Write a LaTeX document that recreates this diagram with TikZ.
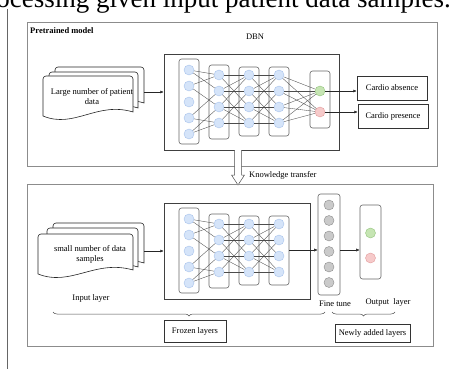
\documentclass[tikz,border=0pt]{standalone}
\usepackage{fontspec}
\setmainfont{Liberation Serif}
\usetikzlibrary{arrows.meta,decorations.pathreplacing}

\definecolor{unitfill}{HTML}{D5E4F9}
\definecolor{unitline}{HTML}{A8C3EC}
\definecolor{yesfill}{HTML}{C6E5B3}
\definecolor{yesline}{HTML}{93C47D}
\definecolor{nofill}{HTML}{F6CACA}
\definecolor{noline}{HTML}{E39B9B}
\definecolor{tunefill}{HTML}{CACACA}
\definecolor{tuneline}{HTML}{8C8C8C}

\tikzset{
  panel/.style={draw=black!45, line width=0.9pt},
  netbox/.style={draw=black!75, line width=0.5pt, inner sep=0pt},
  column/.style={draw=black!60, fill=white, rounded corners=2.5pt, line width=0.6pt, inner sep=0pt, minimum width=20pt},
  unit/.style={circle, draw=unitline, fill=unitfill, minimum size=10pt, inner sep=0pt},
  yesunit/.style={unit, draw=yesline, fill=yesfill},
  nounit/.style={unit, draw=noline, fill=nofill},
  tuneunit/.style={unit, draw=tuneline, fill=tunefill},
  link/.style={draw=black!70, line width=0.35pt},
  flow/.style={draw=black!85, line width=0.5pt, -{Latex[length=3.5pt,width=3pt]}},
  lbl/.style={font=\fontsize{8.5}{10}\selectfont, inner sep=1pt},
  labelbox/.style={lbl, draw=black!80, line width=0.5pt, inner sep=0pt},
  docpage/.style={draw=black!85, fill=white, line width=0.6pt},
  layerbrace/.style={draw=black!70, line width=0.5pt, decorate, decoration={brace, mirror, amplitude=4pt}},
}

% one page of the stacked data sheets: left, top, width, height
\newcommand{\patientdoc}[4]{%
  \draw[docpage] (#1+#3,#2+#4-4) .. controls (#1+0.6*#3,#2+#4-15) and (#1+0.35*#3,#2+#4+13) .. (#1,#2+#4)
    [rounded corners=3pt] -- (#1,#2) -- (#1+#3,#2) [sharp corners] -- cycle;
}

% the four hidden layers of the DBN: name prefix, vertical offset
\newcommand{\dbnstack}[2]{%
  \node[column, minimum height=85pt] (#1c1) at (189,101.5+#2) {};
  \node[column, minimum height=74pt] (#1c2) at (219,102+#2) {};
  \node[column, minimum height=69pt] (#1c3) at (249,101.5+#2) {};
  \node[column, minimum height=69pt] (#1c4) at (279,101.5+#2) {};
  \foreach \i/\y in {1/70,2/86,3/102,4/118,5/134}
    \node[unit] (#1a\i) at (189,\y+#2) {};
  \foreach \i/\y in {1/75,2/91,3/107,4/123} {
    \node[unit] (#1b\i) at (219,\y+#2) {};
    \node[unit] (#1d\i) at (249,\y+#2) {};
    \node[unit] (#1e\i) at (279,\y+#2) {};
  }
  \foreach \i/\j in {1/1,1/2,2/1,2/3,4/2,4/4,5/3,5/4}
    \draw[link] (#1a\i) -- (#1b\j);
  \foreach \i/\j in {1/1,1/3,2/1,2/2,2/4,3/1,3/3,3/4,4/2,4/4} {
    \draw[link] (#1b\i) -- (#1d\j);
    \draw[link] (#1d\i) -- (#1e\j);
  }
}

\begin{document}
\begin{tikzpicture}[x=1pt,y=-1pt]
\useasboundingbox (0,0) rectangle (453,369);

% line of running text above the figure, cut by the page
\node[anchor=base east, inner sep=0pt, font=\fontsize{27}{30}\selectfont] (caption) at (451,7.5) {processing given input patient data samples.};
\draw[black!60, line width=0.8pt] (7,9) -- (7,369);

% pretrained model
\draw[panel] (27,22) rectangle (437,166);
\node[lbl, anchor=west, font=\fontsize{8.5}{10}\selectfont\bfseries] (pretrained) at (29,31) {Pretrained model};
\node[lbl] (dbnlabel) at (255,37) {DBN};

\patientdoc{55}{67}{89}{40}
\patientdoc{49}{72}{89}{40}
\patientdoc{43}{76}{90}{40}
\node[lbl, align=center] (bigtext) at (92,97) {Large number of patient\\data};
\coordinate (bigdoc) at (144,92);

\node[netbox, minimum width=175pt, minimum height=96pt] (dbntop) at (251.5,102) {};
\draw[flow] (bigdoc) -- (dbntop.west |- bigdoc);

\dbnstack{t}{0}
\node[column, minimum height=57pt] (tc5) at (320,99.5) {};
\node[yesunit] (yes) at (320,91) {};
\node[nounit] (no) at (320,112) {};
\foreach \i in {1,...,4} {
  \draw[link] (te\i) -- (yes);
  \draw[link] (te\i) -- (no);
}

\node[labelbox, minimum width=70pt, minimum height=24pt] (absence) at (392,88) {Cardio absence};
\node[labelbox, minimum width=70pt, minimum height=24pt] (presence) at (393,116) {Cardio presence};
\draw[flow] (yes) -- (absence.west |- yes);
\draw[flow] (no) -- (presence.west |- no);

% knowledge transfer
\draw[black!70, line width=0.5pt, fill=white] (234.5,150) -- (234.5,175) -- (231.5,175) -- (238,185)
  -- (244.5,175) -- (241.5,175) -- (241.5,150);
\node[lbl, anchor=west] (transfer) at (248,175) {Knowledge transfer};

% fine tuned model
\draw[panel] (27,184) rectangle (433,346);

\patientdoc{53}{223}{91}{44}
\patientdoc{47}{228}{91}{43}
\patientdoc{38}{234}{95}{40}
\node[lbl, align=center] (smalltext) at (90,254) {small number of data\\samples};
\coordinate (smalldoc) at (144,251);
\node[lbl] (inputlabel) at (91,298) {Input layer};

\node[netbox, minimum width=146pt, minimum height=96pt] (dbnbottom) at (237,251) {};
\draw[flow] (smalldoc) -- (dbnbottom.west |- smalldoc);

\dbnstack{b}{149}

\node[column, minimum width=22pt, minimum height=101pt] (finetune) at (329,244.5) {};
\foreach \i/\y in {1/205,2/220.5,3/236,4/251.5,5/267,6/282.5}
  \node[tuneunit] (f\i) at (329,\y) {};
\node[column, minimum width=21pt, minimum height=74pt] (outcol) at (370.5,242) {};
\node[yesunit] (outyes) at (370.5,233) {};
\node[nounit] (outno) at (370.5,258) {};

\draw[flow] (bc4.east |- 0,250) -- (finetune.west |- 0,250);
\draw[flow] (finetune.east |- 0,250) -- (outcol.west |- 0,250);

\node[lbl] (tunelabel) at (335,304) {Fine tune};
\node[lbl] (outlabel) at (388,302) {Output\ \ layer};

\draw[layerbrace] (53,312) -- (325,312);
\draw[layerbrace] (332,312) -- (395,312);
\node[labelbox, minimum width=62pt, minimum height=22pt] (frozen) at (195,331) {Frozen layers};
\node[labelbox, minimum width=75pt, minimum height=18pt] (newly) at (372.5,333) {Newly added layers};
\end{tikzpicture}
\end{document}
